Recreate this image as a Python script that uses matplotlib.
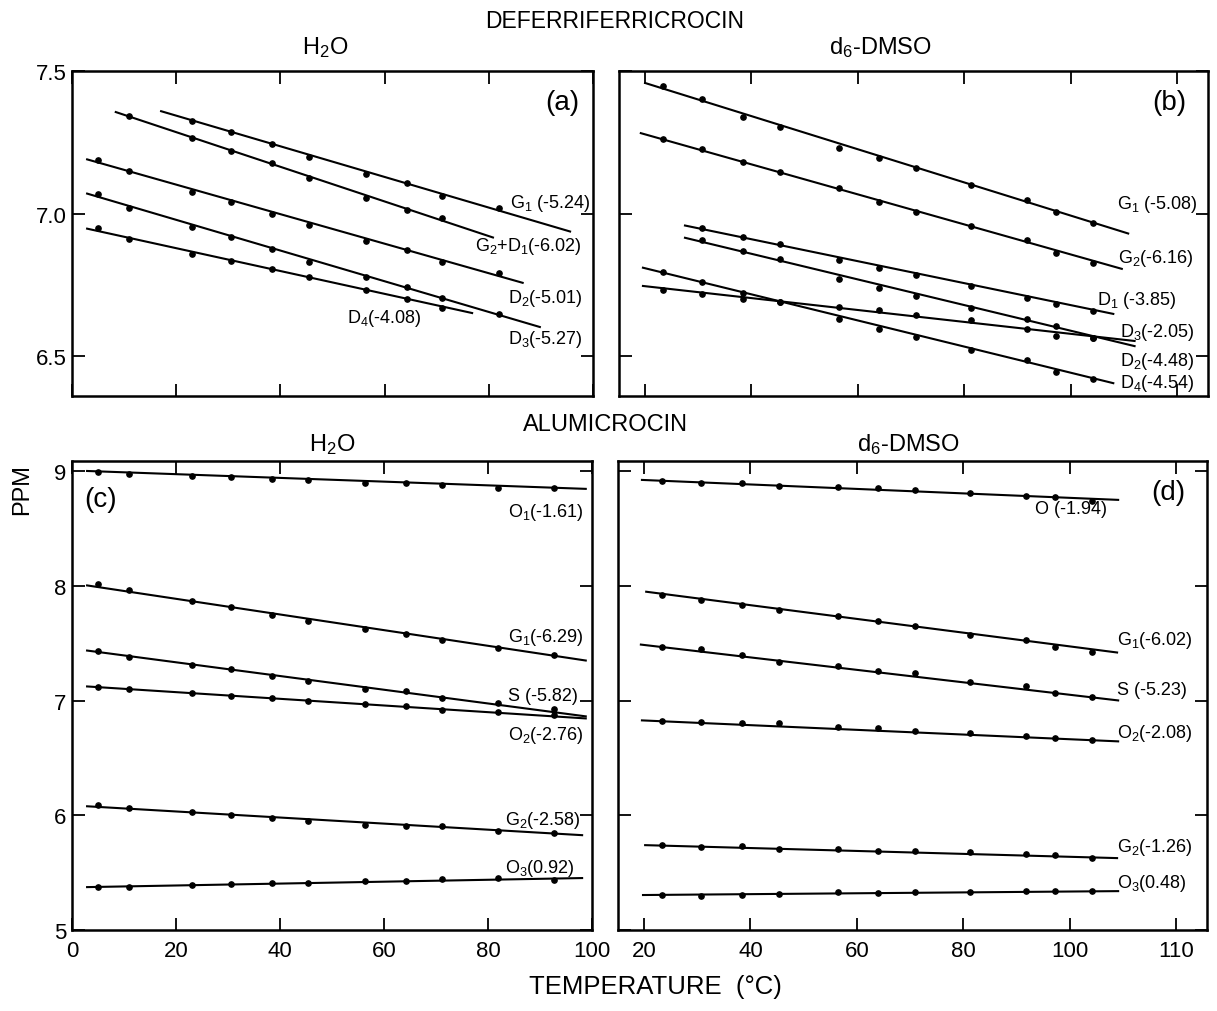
import numpy as np
import matplotlib
matplotlib.use('Agg')
import matplotlib.pyplot as plt

nan = np.nan

# temperatures (deg C) of the measurements
t_h2o = [5, 11, 23, 30.6, 38.4, 45.4, 56.4, 64.3, 71.1, 82, 92.6]
t_dmso = [23.4, 30.7, 38.4, 45.3, 56.4, 64.0, 70.9, 81.3, 91.8, 97.2, 104.2]

# (a) deferriferricrocin in H2O
a_labels = ['G$_1$ (-5.24)', 'G$_2$+D$_1$(-6.02)', 'D$_2$(-5.01)', 'D$_3$(-5.27)', 'D$_4$(-4.08)']
a_y = [
    [nan, nan, 7.324, 7.285, 7.243, 7.197, 7.137, 7.106, 7.063, 7.018, nan],
    [nan, 7.343, 7.264, 7.218, 7.176, 7.123, 7.056, 7.014, 6.986, nan, nan],
    [7.187, 7.148, 7.074, 7.039, 7.000, 6.961, 6.905, 6.873, 6.831, 6.792, nan],
    [7.070, 7.018, 6.954, 6.919, 6.877, 6.831, 6.778, 6.743, 6.704, 6.648, nan],
    [6.951, 6.912, 6.859, 6.835, 6.806, 6.778, 6.732, 6.700, 6.669, nan, nan],
]
a_fit_x = [[17.1, 95.6], [8.4, 80.8], [2.9, 86.5], [2.9, 89.8], [2.9, 76.8]]
a_fit_y = [[7.359, 6.937], [7.356, 6.916], [7.190, 6.757], [7.070, 6.602], [6.947, 6.651]]

# (b) deferriferricrocin in d6-DMSO
b_labels = ['G$_1$ (-5.08)', 'G$_2$(-6.16)', 'D$_1$ (-3.85)', 'D$_3$(-2.05)', 'D$_2$(-4.48)', 'D$_4$(-4.54)']
b_y = [
    [7.447, 7.401, 7.338, 7.303, 7.229, 7.194, 7.159, 7.099, 7.049, 7.004, 6.968],
    [7.260, 7.225, 7.180, 7.144, 7.088, 7.042, 7.007, 6.958, 6.908, 6.863, 6.827],
    [nan, 6.951, 6.919, 6.894, 6.838, 6.810, 6.785, 6.746, 6.704, 6.683, 6.658],
    [6.732, 6.718, 6.700, 6.690, 6.673, 6.662, 6.644, 6.627, 6.595, 6.570, 6.563],
    [nan, 6.908, 6.870, 6.840, 6.771, 6.739, 6.711, 6.669, 6.630, 6.606, 6.563],
    [6.796, 6.761, 6.720, 6.690, 6.630, 6.595, 6.567, 6.521, 6.486, 6.444, 6.419],
]
b_fit_x = [[20, 110.8], [19.2, 109.6], [27.5, 108], [19.6, 112], [27.5, 112], [19.6, 108]]
b_fit_y = [[7.458, 6.930], [7.282, 6.806], [6.958, 6.648], [6.746, 6.553], [6.915, 6.535], [6.810, 6.405]]

# (c) alumicrocin in H2O
c_labels = ['O$_1$(-1.61)', 'G$_1$(-6.29)', 'S (-5.82)', 'O$_2$(-2.76)', 'G$_2$(-2.58)', 'O$_3$(0.92)']
c_y = [
    [8.995, 8.977, 8.960, 8.951, 8.934, 8.925, 8.900, 8.900, 8.882, 8.856, 8.856],
    [8.020, 7.968, 7.872, 7.820, 7.750, 7.698, 7.628, 7.585, 7.533, 7.463, 7.402],
    [7.437, 7.385, 7.315, 7.272, 7.211, 7.170, 7.106, 7.080, 7.019, 6.976, 6.923],
    [7.115, 7.106, 7.071, 7.037, 7.019, 6.993, 6.967, 6.950, 6.915, 6.897, 6.871],
    [6.088, 6.062, 6.027, 6.001, 5.975, 5.949, 5.914, 5.905, 5.905, 5.862, 5.844],
    [5.374, 5.374, 5.392, 5.400, 5.409, 5.409, 5.426, 5.426, 5.444, 5.453, 5.435],
]
c_fit_x = [[2.9, 98.8], [2.9, 98.8], [2.9, 98.8], [2.9, 98.8], [2.9, 98.1], [2.9, 98.1]]
c_fit_y = [[9.003, 8.847], [8.005, 7.350], [7.437, 6.863], [7.124, 6.845], [6.079, 5.827], [5.374, 5.453]]

# (d) alumicrocin in d6-DMSO
d_labels = ['O (-1.94)', 'G$_1$(-6.02)', 'S (-5.23)', 'O$_2$(-2.08)', 'G$_2$(-1.26)', 'O$_3$(0.48)']
d_y = [
    [8.916, 8.899, 8.899, 8.873, 8.864, 8.855, 8.838, 8.812, 8.786, 8.777, 8.742],
    [7.924, 7.881, 7.837, 7.794, 7.741, 7.698, 7.654, 7.576, 7.533, 7.472, 7.428],
    [7.472, 7.454, 7.402, 7.341, 7.298, 7.263, 7.237, 7.167, 7.132, 7.071, 7.028],
    [6.819, 6.810, 6.801, 6.801, 6.767, 6.758, 6.732, 6.715, 6.688, 6.671, 6.654],
    [5.740, 5.722, 5.731, 5.705, 5.705, 5.688, 5.688, 5.679, 5.661, 5.653, 5.627],
    [5.305, 5.296, 5.305, 5.313, 5.331, 5.322, 5.331, 5.331, 5.339, 5.339, 5.339],
]
d_fit_x = [[19.6, 109.1], [20.4, 108.9], [19.4, 109.1], [19.6, 109.1], [20.2, 108.9], [19.8, 109.1]]
d_fit_y = [[8.925, 8.751], [7.950, 7.420], [7.489, 7.002], [6.828, 6.645], [5.740, 5.627], [5.305, 5.339]]

h2o_ticks = [0, 20, 40, 60, 80, 100]
dmso_ticks = [20, 40, 60, 80, 100, 120]
dmso_ticklabels = ['20', '40', '60', '80', '100', '110']

plt.rcParams['font.family'] = ['Liberation Sans', 'DejaVu Sans']
plt.rcParams['mathtext.default'] = 'regular'

W, H = 1217, 1012


def box(l, t, r, b):
    return [l / W, 1 - b / H, (r - l) / W, (b - t) / H]


def draw(ax, t, ys, fx, fy, labels, label_pos):
    for y, x01, y01, lab, pos in zip(ys, fx, fy, labels, label_pos):
        ax.plot(x01, y01, color='black', lw=1.5)
        ax.plot(t, y, 'o', color='black', ms=3.8, ls='none')
        ax.text(pos[0], pos[1], lab, fontsize=13, ha='left', va='center')


def style(ax, xlim, ylim, xticks, yticks):
    ax.set_xlim(xlim)
    ax.set_ylim(ylim)
    ax.set_xticks(xticks)
    ax.set_yticks(yticks)
    ax.tick_params(direction='in', length=9, width=1.3, top=True, right=True,
                   labelsize=16)
    ax.tick_params(axis='x', pad=7)
    ax.tick_params(axis='y', pad=4)
    for s in ax.spines.values():
        s.set_linewidth(1.8)


fig = plt.figure(figsize=(12.17, 10.12), dpi=100)

ax_a = fig.add_axes(box(72, 72, 593, 397))
ax_b = fig.add_axes(box(619, 72, 1208, 397))
ax_c = fig.add_axes(box(72, 462, 592, 931))
ax_d = fig.add_axes(box(618, 462, 1207, 931))

# (a)
draw(ax_a, t_h2o, a_y, a_fit_x, a_fit_y, a_labels,
     [(84.1, 7.039), (77.4, 6.887), (83.7, 6.704), (83.7, 6.563), (52.8, 6.634)])
style(ax_a, (0, 100), (6.36, 7.5), h2o_ticks, [6.5, 7.0, 7.5])
ax_a.set_yticklabels(['6.5', '7.0', '7.5'])
ax_a.set_xticklabels([])
ax_a.text(0.942, 0.905, '(a)', transform=ax_a.transAxes, fontsize=20, ha='center', va='center')

# (b)
draw(ax_b, t_dmso, b_y, b_fit_x, b_fit_y, b_labels,
     [(108.7, 7.035), (108.9, 6.845), (104.9, 6.697), (109.3, 6.588), (109.3, 6.486), (109.3, 6.408)])
style(ax_b, (15.1, 125.8), (6.36, 7.5), dmso_ticks, [6.5, 7.0, 7.5])
ax_b.set_xticklabels([])
ax_b.set_yticklabels([])
ax_b.text(0.935, 0.905, '(b)', transform=ax_b.transAxes, fontsize=20, ha='center', va='center')

# (c)
draw(ax_c, t_h2o, c_y, c_fit_x, c_fit_y, c_labels,
     [(83.8, 8.646), (83.8, 7.559), (83.8, 7.045), (83.8, 6.706), (83.3, 5.966), (83.3, 5.548)])
style(ax_c, (0, 100), (5, 9.09), h2o_ticks, [5, 6, 7, 8, 9])
ax_c.set_xticklabels([str(v) for v in h2o_ticks])
ax_c.set_yticklabels(['5', '6', '7', '8', '9'])
ax_c.text(0.054, 0.919, '(c)', transform=ax_c.transAxes, fontsize=20, ha='center', va='center')

# (d)
draw(ax_d, t_dmso, d_y, d_fit_x, d_fit_y, d_labels,
     [(93.5, 8.68), (108.9, 7.533), (108.9, 7.097), (108.9, 6.723), (108.9, 5.731), (108.9, 5.418)])
style(ax_d, (15.1, 125.8), (5, 9.09), dmso_ticks, [5, 6, 7, 8, 9])
ax_d.set_xticklabels(dmso_ticklabels)
ax_d.set_yticklabels([])
ax_d.text(0.934, 0.934, '(d)', transform=ax_d.transAxes, fontsize=20, ha='center', va='center')

# headings
fig.text(615 / W, 1 - 22 / H, 'DEFERRIFERRICROCIN', fontsize=16.5, ha='center', va='center')
fig.text(325 / W, 1 - 48 / H, 'H$_2$O', fontsize=17, ha='center', va='center')
fig.text(880 / W, 1 - 48 / H, 'd$_6$-DMSO', fontsize=17, ha='center', va='center')
fig.text(605 / W, 1 - 425 / H, 'ALUMICROCIN', fontsize=17, ha='center', va='center')
fig.text(332 / W, 1 - 445 / H, 'H$_2$O', fontsize=17, ha='center', va='center')
fig.text(908 / W, 1 - 445 / H, 'd$_6$-DMSO', fontsize=17, ha='center', va='center')
fig.text(22 / W, 1 - 490 / H, 'PPM', fontsize=17, ha='center', va='center', rotation=90)
fig.text(655 / W, 1 - 987 / H, 'TEMPERATURE  (°C)', fontsize=18.5, ha='center', va='center')

fig.savefig('out.png', dpi=100)
plt.close()
